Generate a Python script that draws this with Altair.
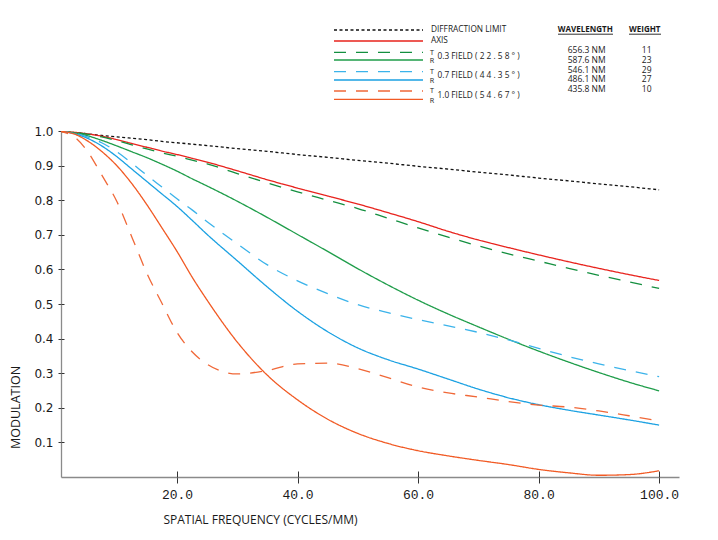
import altair as alt
import pandas as pd

# ---------------- data ----------------
FREQ = [0, 2.5, 5, 7.5, 10, 12.5, 15, 17.5, 20, 22.5, 25, 30, 35, 40, 45,
        50, 55, 60, 65, 70, 75, 80, 85, 90, 95, 100]

DIFFRACTION = [1.0, 0.996, 0.992, 0.987, 0.983, 0.979, 0.975, 0.970, 0.966, 0.962,
               0.958, 0.949, 0.941, 0.932, 0.924, 0.915, 0.907, 0.898, 0.890, 0.881,
               0.873, 0.864, 0.856, 0.847, 0.839, 0.830]
AXIS = [1.0, 0.997, 0.992, 0.985, 0.975, 0.964, 0.953, 0.942, 0.932, 0.921,
        0.910, 0.885, 0.859, 0.835, 0.812, 0.789, 0.764, 0.738, 0.710, 0.685,
        0.663, 0.642, 0.622, 0.603, 0.585, 0.568]
F03_T = [1.0, 0.997, 0.991, 0.983, 0.972, 0.960, 0.948, 0.937, 0.927, 0.916,
         0.905, 0.877, 0.850, 0.824, 0.800, 0.776, 0.748, 0.720, 0.693, 0.668,
         0.645, 0.624, 0.603, 0.583, 0.564, 0.545]
F03_R = [1.0, 0.996, 0.987, 0.973, 0.957, 0.940, 0.923, 0.904, 0.884, 0.862,
         0.841, 0.797, 0.750, 0.701, 0.652, 0.602, 0.555, 0.511, 0.471, 0.434,
         0.398, 0.364, 0.332, 0.302, 0.274, 0.249]
F07_T = [1.0, 0.995, 0.984, 0.966, 0.940, 0.907, 0.872, 0.838, 0.804, 0.772,
         0.738, 0.674, 0.613, 0.567, 0.530, 0.498, 0.475, 0.455, 0.437, 0.418,
         0.396, 0.372, 0.348, 0.327, 0.308, 0.290]
F07_R = [1.0, 0.994, 0.980, 0.957, 0.926, 0.890, 0.854, 0.818, 0.782, 0.742,
         0.701, 0.625, 0.549, 0.479, 0.420, 0.373, 0.339, 0.312, 0.283, 0.254,
         0.229, 0.209, 0.193, 0.179, 0.165, 0.150]
F10_T = [1.0, 0.988, 0.945, 0.873, 0.797, 0.694, 0.589, 0.502, 0.418, 0.362,
         0.326, 0.298, 0.308, 0.327, 0.329, 0.313, 0.287, 0.260, 0.243, 0.231,
         0.218, 0.208, 0.202, 0.191, 0.177, 0.162]
F10_R = [1.0, 0.994, 0.973, 0.941, 0.900, 0.848, 0.787, 0.720, 0.652, 0.578,
         0.511, 0.390, 0.294, 0.223, 0.167, 0.126, 0.097, 0.076, 0.061, 0.048,
         0.036, 0.022, 0.012, 0.005, 0.007, 0.018]

SERIES = ["DIFFRACTION LIMIT", "AXIS", "0.3 T", "0.3 R", "0.7 T", "0.7 R", "1.0 T", "1.0 R"]
VALUES = [DIFFRACTION, AXIS, F03_T, F03_R, F07_T, F07_R, F10_T, F10_R]

X_TICKS = [20, 40, 60, 80, 100]
Y_TICKS = [0.1, 0.2, 0.3, 0.4, 0.5, 0.6, 0.7, 0.8, 0.9, 1.0]

SIMPLE_LABELS = ["DIFFRACTION LIMIT", "AXIS"]
FIELD_LABELS = ["0.3 FIELD ( 2 2 . 5 8 ° )", "0.7 FIELD ( 4 4 . 3 5 ° )", "1.0 FIELD ( 5 4 . 6 7 ° )"]
WAVELENGTHS = ["656.3 NM", "587.6 NM", "546.1 NM", "486.1 NM", "435.8 NM"]
WEIGHTS = ["11", "23", "29", "27", "10"]

# ---------------- styles ----------------
COLORS = ["#111111", "#e8231d", "#138f3f", "#1f9d4a", "#3bb3ea", "#1ba1e2", "#f06838", "#f15a24"]
DOT = [3, 2.5]
DASH = [12, 10]
SOLID = [1, 0]
DASHES = [DOT, SOLID, DASH, SOLID, DASH, SOLID, DASH, SOLID]

FONT = "Open Sans"
W, H = 618, 346

rows = []
for name, vals in zip(SERIES, VALUES):
    for f, v in zip(FREQ, vals):
        rows.append({"freq": f, "mtf": v, "series": name})
df = pd.DataFrame(rows)

xscale = alt.Scale(domain=[0.75, 103.3], nice=False, zero=False)
yscale = alt.Scale(domain=[0, 1.0], nice=False)

x_axis = alt.Axis(values=X_TICKS, format=".1f", title="SPATIAL FREQUENCY (CYCLES/MM)",
                  titleX=199, titleY=42, titleAlign="center", titleBaseline="middle",
                  titleFont=FONT, titleFontSize=12, titleFontWeight="normal", titleColor="#1a1a1a",
                  labelFont="Liberation Mono", labelFontSize=13, labelColor="#1a1a1a",
                  labelPadding=5, tickSize=6, tickColor="#333333", tickWidth=1,
                  domainColor="#8a8a8a", domainWidth=1.3, grid=False, labelOverlap=False)
y_axis = alt.Axis(values=Y_TICKS, format=".1f", title="MODULATION",
                  titleX=-46, titleY=276, titleAngle=270, titleAlign="center", titleBaseline="middle",
                  titleFont=FONT, titleFontSize=12.5, titleFontWeight="normal", titleColor="#1a1a1a",
                  labelFont="DejaVu Sans", labelFontSize=12, labelColor="#1a1a1a",
                  labelPadding=5, tickSize=3, tickColor="#333333", tickWidth=1,
                  domainColor="#8a8a8a", domainWidth=1.3, grid=False, labelOverlap=False)

lines = alt.Chart(df).mark_line(strokeWidth=1.3, clip=True, interpolate="monotone").encode(
    x=alt.X("freq:Q", scale=xscale, axis=x_axis),
    y=alt.Y("mtf:Q", scale=yscale, axis=y_axis),
    color=alt.Color("series:N", scale=alt.Scale(domain=SERIES, range=COLORS), legend=None),
    strokeDash=alt.StrokeDash("series:N", scale=alt.Scale(domain=SERIES, range=DASHES), legend=None),
    detail="series:N",
)

# inner half of the ticks (ticks cross the axis lines)
deco = alt.Chart(df).mark_line(opacity=0).encode(
    x=alt.X("freq:Q", scale=xscale,
            axis=alt.Axis(orient="bottom", offset=-6, values=X_TICKS, tickSize=6, labels=False,
                          domain=False, grid=False, title=None, tickColor="#333333", tickWidth=1)),
    y=alt.Y("mtf:Q", scale=yscale,
            axis=alt.Axis(orient="left", offset=-3, values=Y_TICKS, tickSize=3, labels=False,
                          domain=False, grid=False, title=None, tickColor="#333333", tickWidth=1)),
    detail="series:N",
)

one = pd.DataFrame({"k": [0]})
layers = [lines, deco]

# ---------------- legend (top) ----------------
LX0, LX1 = 273, 362
line_rows = [-101, -90, -78.7, -71, -59.3, -51, -40, -31.7]
for i, yv in enumerate(line_rows):
    layers.append(alt.Chart(one).mark_rule(color=COLORS[i], strokeDash=DASHES[i],
                                           strokeWidth=1.3 if i else 1.5).encode(
        x=alt.value(LX0), x2=alt.value(LX1), y=alt.value(yv)))

for lab, yv in zip(SIMPLE_LABELS, [-101.4, -89.6]):
    layers.append(alt.Chart(one).mark_text(align="left", baseline="middle", font=FONT,
                                           fontSize=8.3, color="#1a1a1a", text=lab).encode(
        x=alt.value(370), y=alt.value(yv)))

for j, lab in enumerate(FIELD_LABELS):
    ty = line_rows[2 + 2 * j]
    ry = line_rows[3 + 2 * j]
    layers.append(alt.Chart(one).mark_text(align="center", baseline="middle", font=FONT,
                                           fontSize=7.2, color="#1a1a1a", text="T").encode(
        x=alt.value(371), y=alt.value(ty + 0.4)))
    layers.append(alt.Chart(one).mark_text(align="center", baseline="middle", font=FONT,
                                           fontSize=7.2, color="#1a1a1a", text="R").encode(
        x=alt.value(371), y=alt.value(ry + 1.2)))
    layers.append(alt.Chart(one).mark_text(align="left", baseline="middle", font=FONT,
                                           fontSize=8.3, color="#1a1a1a", text=lab).encode(
        x=alt.value(376.5), y=alt.value((ty + ry) / 2 + 0.5)))

for lab, cx, x0, x1 in [("WAVELENGTH", 524.3, 497, 552), ("WEIGHT", 583.8, 568, 600)]:
    layers.append(alt.Chart(one).mark_text(align="center", baseline="middle", font=FONT,
                                           fontSize=8, fontWeight="bold", color="#1a1a1a",
                                           text=lab).encode(
        x=alt.value(cx), y=alt.value(-101)))
    layers.append(alt.Chart(one).mark_rule(color="#1a1a1a", strokeWidth=0.9).encode(
        x=alt.value(x0), x2=alt.value(x1), y=alt.value(-96.8)))

for k, (wl, wt) in enumerate(zip(WAVELENGTHS, WEIGHTS)):
    yv = -80.7 + 9.6 * k
    layers.append(alt.Chart(one).mark_text(align="center", baseline="middle", font=FONT,
                                           fontSize=8.5, color="#1a1a1a", text=wl).encode(
        x=alt.value(525.7), y=alt.value(yv)))
    layers.append(alt.Chart(one).mark_text(align="center", baseline="middle", font=FONT,
                                           fontSize=8.5, color="#1a1a1a", text=wt).encode(
        x=alt.value(585.7), y=alt.value(yv)))

chart = alt.layer(*layers).resolve_axis(x="independent", y="independent").properties(
    width=W, height=H,
    padding={"left": 53, "top": 123, "right": 22, "bottom": 55},
    autosize=alt.AutoSizeParams(type="none"),
    background="white",
).configure_view(stroke=None)

chart.save("out.html", embed_options={"renderer": "svg", "actions": False})
